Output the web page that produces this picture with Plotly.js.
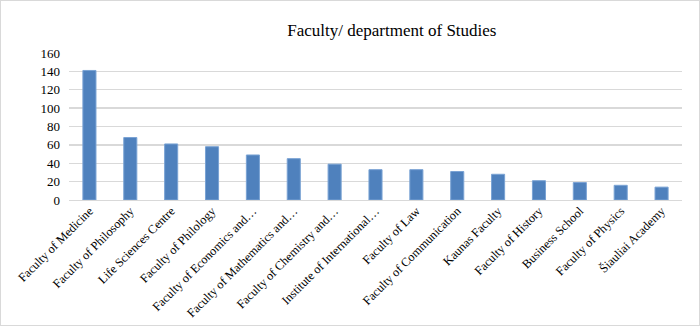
<!DOCTYPE html>
<html>
<head>
<meta charset="utf-8">
<script src="https://cdn.plot.ly/plotly-3.0.1.min.js"></script>
<style>
html,body{margin:0;padding:0;background:#fff;}
#chart{width:698px;height:324px;border:1px solid #d9d9d9;}
</style>
</head>
<body>
<div id="chart"></div>
<script>
const categories = [
  "Faculty of Medicine",
  "Faculty of Philosophy",
  "Life Sciences Centre",
  "Faculty of Philology",
  "Faculty of Economics and…",
  "Faculty of Mathematics and…",
  "Faculty of Chemistry and…",
  "Institute of International…",
  "Faculty of Law",
  "Faculty of Communication",
  "Kaunas Faculty",
  "Faculty of History",
  "Business School",
  "Faculty of Physics",
  "Šiauliai Academy"
];
const values = [141, 68, 61, 58, 49, 45, 39, 33, 33, 31, 28, 21, 19, 16, 14];
const yTicks = [0, 20, 40, 60, 80, 100, 120, 140, 160];
const titleText = "Faculty/ department of Studies";

const serif = "'Liberation Serif', 'Times New Roman', serif";

const trace = {
  type: "bar",
  x: categories,
  y: values,
  marker: {color: "#4f81bd", line: {color: "#7aa3d4", width: 1}},
  hoverinfo: "x+y"
};

const layout = {
  width: 698,
  height: 324,
  margin: {l: 68, r: 17, t: 52, b: 125},
  paper_bgcolor: "#ffffff",
  plot_bgcolor: "#ffffff",
  showlegend: false,
  bargap: 0.68,
  font: {family: serif},
  title: {
    text: titleText,
    font: {family: serif, size: 17, color: "#000000"},
    x: 0.56, xanchor: "center",
    y: 0.91, yanchor: "middle"
  },
  xaxis: {
    type: "category",
    tickangle: -45,
    tickfont: {family: serif, size: 12.3, color: "#000000"},
    showgrid: false,
    showline: true,
    linecolor: "#d9d9d9",
    linewidth: 1,
    ticks: "",
    ticklabelstandoff: -2,
    automargin: false
  },
  yaxis: {
    range: [0, 160],
    tickvals: yTicks,
    ticktext: yTicks.map(String),
    tickfont: {family: serif, size: 13, color: "#000000"},
    showgrid: true,
    gridcolor: "#d9d9d9",
    gridwidth: 1.3,
    zeroline: false,
    showline: false,
    ticks: "",
    ticklabelstandoff: 8,
    automargin: false
  }
};

Plotly.newPlot("chart", [trace], layout, {displayModeBar: false, staticPlot: true});
</script>
</body>
</html>
